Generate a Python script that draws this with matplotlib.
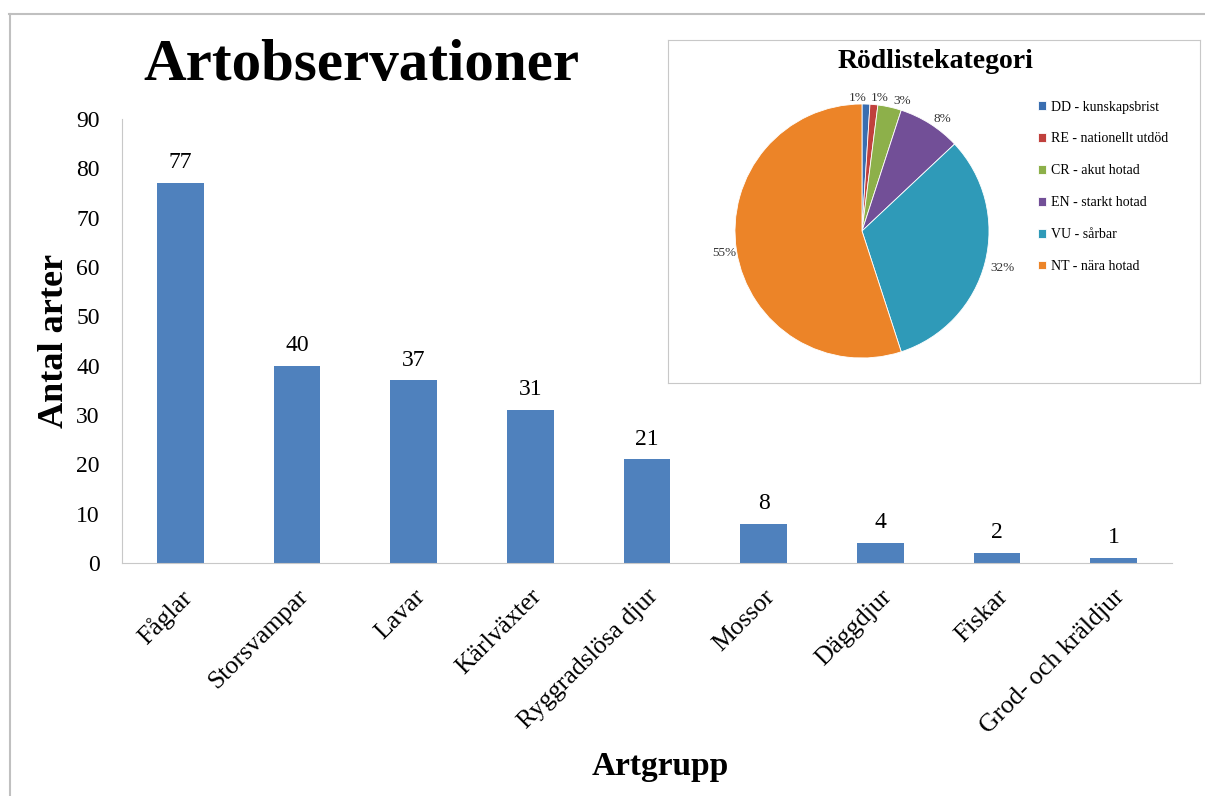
import matplotlib
matplotlib.use("Agg")
import matplotlib.pyplot as plt

plt.rcParams['font.family'] = ['Liberation Serif', 'DejaVu Serif']

# Bar chart data
groups = ['Fåglar', 'Storsvampar', 'Lavar', 'Kärlväxter', 'Ryggradslösa djur',
          'Mossor', 'Däggdjur', 'Fiskar', 'Grod- och kräldjur']
counts = [77, 40, 37, 31, 21, 8, 4, 2, 1]

# Pie chart data (percent)
red_list = ['DD - kunskapsbrist', 'RE - nationellt utdöd', 'CR - akut hotad',
            'EN - starkt hotad', 'VU - sårbar', 'NT - nära hotad']
red_pct = [1, 1, 3, 8, 32, 55]
pie_colors = ['#3A6EB0', '#C0403C', '#8DB04A', '#724F97', '#2F9AB8', '#EC8428']

W, H = 1205, 796
fig = plt.figure(figsize=(W / 100, H / 100), dpi=100)

# outer chart frame (top and left edges visible)
fig.add_artist(plt.Line2D([9 / W, 1], [1 - 14 / H, 1 - 14 / H], color='#c0c0c0', lw=1.5))
fig.add_artist(plt.Line2D([10 / W, 10 / W], [1 - 14 / H, 0], color='#c0c0c0', lw=1.5))

ax = fig.add_axes([122 / W, 1 - 563 / H, 1050 / W, 444 / H])
x = range(len(groups))
ax.bar(x, counts, width=0.4, color='#4F81BD')
for xi, v in zip(x, counts):
    ax.text(xi, v + 2, str(v), ha='center', va='bottom', fontsize=17)
ax.set_xlim(-0.5, len(groups) - 0.5)
ax.set_ylim(0, 90)
ax.set_yticks(range(0, 91, 10))
ax.tick_params(axis='y', length=0, pad=16, labelsize=17)
ax.tick_params(axis='x', length=0, pad=16)
ax.set_xticks(list(x))
ax.set_xticklabels(groups, rotation=45, ha='right', rotation_mode='anchor', fontsize=18.5)
for s in ['top', 'right']:
    ax.spines[s].set_visible(False)
ax.spines['left'].set_color('#c8c8c8')
ax.spines['bottom'].set_color('#c8c8c8')
ax.set_ylabel('Antal arter', fontsize=26, fontweight='bold', labelpad=4)
fig.text(660 / W, 1 - 766 / H, 'Artgrupp', fontsize=24, fontweight='bold', ha='center', va='center')
fig.text(361 / W, 1 - 66 / H, 'Artobservationer', fontsize=42.5, fontweight='bold', ha='center', va='center')

# inset box for the pie
box = fig.add_axes([668 / W, 1 - 383 / H, 532 / W, 343 / H])
box.set_xticks([])
box.set_yticks([])
box.set_facecolor('white')
for s in box.spines.values():
    s.set_color('#c8c8c8')
box.set_zorder(3)

pax = fig.add_axes([735 / W, 1 - 358 / H, 254 / W, 254 / H])
pax.set_zorder(4)
wedges, texts, autotexts = pax.pie(red_pct, colors=pie_colors, startangle=90, counterclock=False,
                                   autopct='%1.0f%%', pctdistance=1.1,
                                   wedgeprops=dict(edgecolor='white', linewidth=0.6),
                                   textprops=dict(fontsize=9.5, color='#333333'))
pax.set_xlim(-1, 1)
pax.set_ylim(-1, 1)
pax.set_aspect('equal')
# small slices at the top: nudge their labels apart like the original
autotexts[0].set_position((-0.03, 1.05))
autotexts[1].set_position((0.14, 1.05))
autotexts[2].set_position((0.32, 1.02))
autotexts[3].set_position((0.63, 0.88))
autotexts[4].set_position((1.11, -0.29))
fig.text(935 / W, 1 - 61 / H, 'Rödlistekategori', fontsize=20, fontweight='bold',
         ha='center', va='center', zorder=5)
leg = fig.legend(wedges, red_list, loc='upper left', bbox_to_anchor=(1025 / W, 1 - 88 / H),
                 frameon=False, fontsize=10, handlelength=0.6, handleheight=0.6,
                 handletextpad=0.4, labelspacing=1.36)
leg.set_zorder(5)

fig.savefig('out.png', dpi=100)
